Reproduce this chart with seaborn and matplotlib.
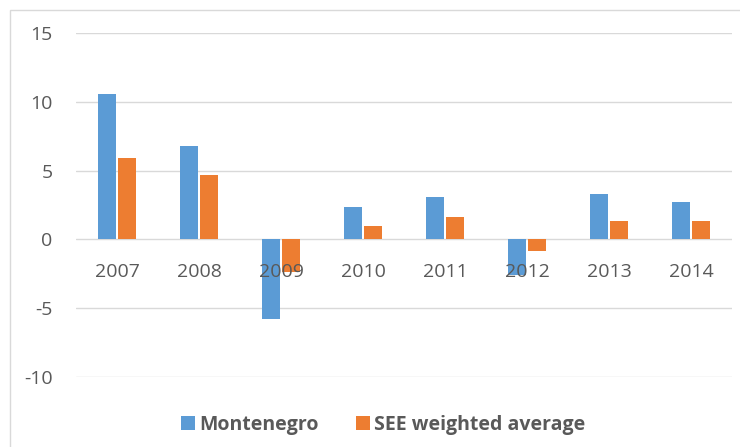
import pandas as pd
import seaborn as sns
import matplotlib.pyplot as plt
from matplotlib.patches import Rectangle
from matplotlib.lines import Line2D

# values
years = ['2007', '2008', '2009', '2010', '2011', '2012', '2013', '2014']
montenegro = [10.6, 6.8, -5.8, 2.35, 3.1, -2.6, 3.3, 2.75]
see_avg = [5.9, 4.65, -2.4, 0.97, 1.6, -0.85, 1.36, 1.36]
series_names = ['Montenegro', 'SEE weighted average']
colores = ['#5B9BD5', '#ED7D31']

df = pd.DataFrame({'year': years * 2,
                   'valor': montenegro + see_avg,
                   'serie': [series_names[0]] * len(years) + [series_names[1]] * len(years)})

sns.set_style('white')
plt.rcParams['font.family'] = ['Open Sans', 'DejaVu Sans']
plt.rcParams['axes.unicode_minus'] = False

fig = plt.figure(figsize=(7.4, 4.47), dpi=100)
ax = fig.add_axes([0.103, 0.157, 0.886, 0.769])

sns.barplot(data=df, x='year', y='valor', hue='serie', order=years,
            palette=colores, width=0.5, gap=0.12,
            saturation=1, linewidth=0, ax=ax, zorder=3, legend=False)

ax.set_ylim(-10, 15)
ax.set_yticks([-10, -5, 0, 5, 10, 15])
ax.set_xlim(-0.5, len(years) - 0.5)
ax.set_xlabel('')
ax.set_ylabel('')
ax.grid(axis='y', color='#d9d9d9', linewidth=1)
ax.yaxis.set_zorder(0.5)
ax.xaxis.set_zorder(5)
for s in ax.spines.values():
    s.set_visible(False)
ax.spines['bottom'].set_position(('data', 0))
ax.tick_params(axis='x', length=0, pad=17, labelsize=14, labelcolor='#595959')
ax.tick_params(axis='y', length=0, pad=17, labelsize=14, labelcolor='#595959')

handles = [Line2D([], [], marker='s', linestyle='none', markersize=9.5,
                  markerfacecolor=c, markeredgewidth=0) for c in colores]
leg = ax.legend(handles, series_names, loc='center', bbox_to_anchor=(0.47, -0.14),
                ncol=2, frameon=False, handlelength=0.5, handletextpad=0.35,
                columnspacing=2.0, prop={'size': 14, 'weight': 'bold'})
for t in leg.get_texts():
    t.set_color('#595959')

# light border around the chart
fig.patches.append(Rectangle((10 / 740, -0.1), 2, 1.1 - 10 / 447, transform=fig.transFigure,
                             fill=False, edgecolor='#d9d9d9', linewidth=1))

plt.savefig('out.png', dpi=100)
